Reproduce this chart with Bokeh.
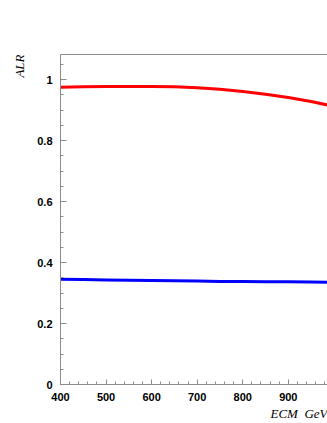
from bokeh.plotting import figure
from bokeh.models import Range1d, LinearAxis, Title, SingleIntervalTicker, FixedTicker
from bokeh.embed import file_html
from bokeh.resources import INLINE

# data
ecm = [400, 450, 500, 550, 600, 650, 700, 750, 800, 850, 900, 950, 1000]
alr_red = [0.975, 0.976, 0.977, 0.977, 0.977, 0.976, 0.973, 0.968, 0.961, 0.952, 0.941, 0.928, 0.912]
alr_blue = [0.345, 0.344, 0.343, 0.342, 0.341, 0.340, 0.339, 0.338, 0.338, 0.337, 0.337, 0.336, 0.335]
y_label_overrides = {0: "0", 1: "1"}

AXIS_GRAY = "#8c8c8c"

p = figure(width=327, height=423, output_backend="svg", toolbar_location=None,
           x_range=Range1d(400, 986), y_range=Range1d(0, 1.082),
           min_border_left=60, min_border_right=0, min_border_top=54, min_border_bottom=39)
p.outline_line_color = None
p.grid.visible = False
p.background_fill_color = "white"
p.border_fill_color = "white"

p.line(ecm, alr_red, line_color="#ff0000", line_width=3)
p.line(ecm, alr_blue, line_color="#0000ff", line_width=3)

xa = p.xaxis[0]
xa.ticker = SingleIntervalTicker(interval=100, num_minor_ticks=5)
ya = p.yaxis[0]
ya.ticker = SingleIntervalTicker(interval=0.2, num_minor_ticks=4)
ya.major_label_overrides = y_label_overrides

for ax, mj in ((xa, 5), (ya, 6)):
    ax.axis_line_color = AXIS_GRAY
    ax.major_tick_line_color = AXIS_GRAY
    ax.minor_tick_line_color = AXIS_GRAY
    ax.major_tick_in = mj
    ax.major_tick_out = 0
    ax.minor_tick_in = 3
    ax.minor_tick_out = 0
    ax.major_label_text_font = "Liberation Sans"
    ax.major_label_text_font_style = "bold"
    ax.major_label_text_font_size = "11px"
    ax.major_label_text_color = "black"
xa.major_label_standoff = 8
ya.major_label_standoff = 8

top = LinearAxis(ticker=FixedTicker(ticks=[]), major_tick_in=0, major_tick_out=0,
                 minor_tick_in=0, minor_tick_out=0, axis_line_color=AXIS_GRAY)
p.add_layout(top, "above")

p.add_layout(Title(text="ALR", align="right", vertical_align="top",
                   text_font="Liberation Serif", text_font_style="italic",
                   text_font_size="13px", standoff=12, text_color="black"), "left")
p.add_layout(Title(text="ECM \u00a0GeV", align="right", text_font="Liberation Serif",
                   text_font_style="italic", text_font_size="13px", standoff=0,
                   text_color="black"), "below")

open("out.html", "w").write(file_html(p, INLINE))
